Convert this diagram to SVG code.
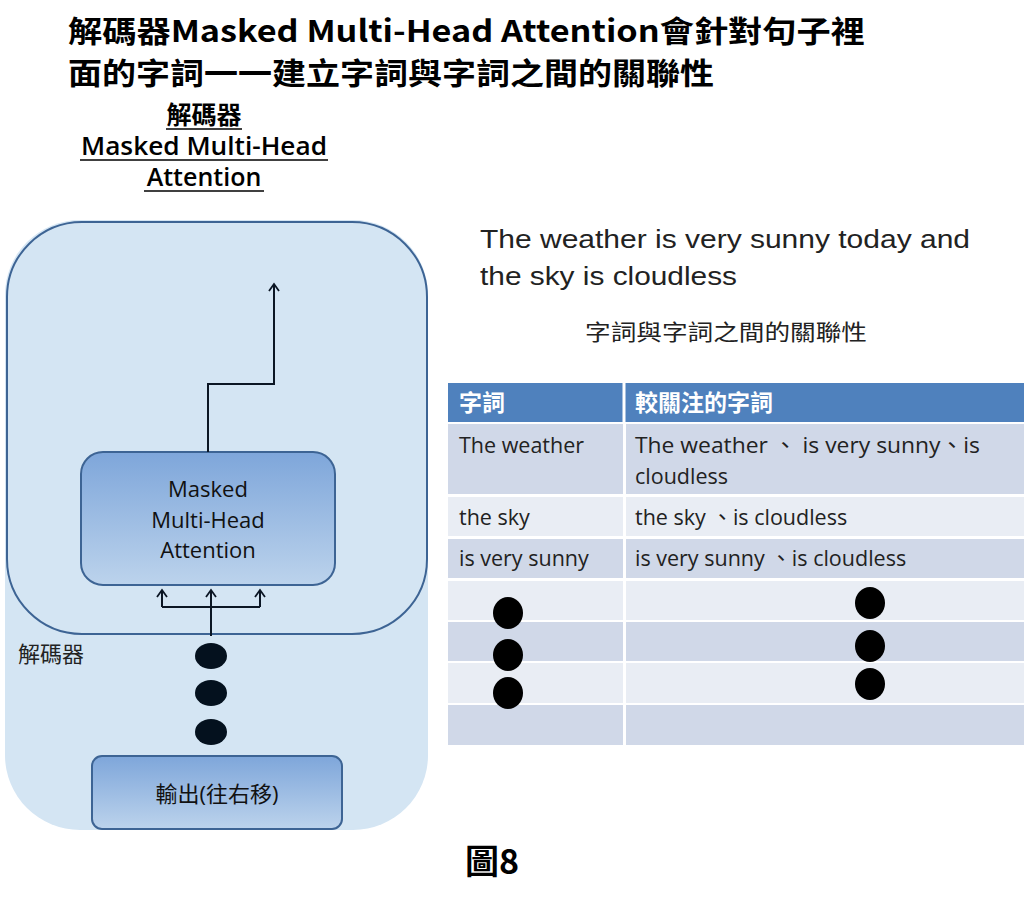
<svg xmlns="http://www.w3.org/2000/svg" width="1024" height="910" viewBox="0 0 1024 910">
<style>
.t{font-family:"Open Sans","Noto Sans CJK TC",sans-serif}
.c{font-family:"Noto Sans CJK TC",sans-serif}
.line{fill:none;stroke:#0b1624;stroke-width:2}
.cell{font-family:"Open Sans","Noto Sans CJK TC",sans-serif;font-size:21.5px;fill:#222}
</style>
<defs>
<linearGradient id="g" x1="0" y1="0" x2="0" y2="1"><stop offset="0" stop-color="#7ea6da"/><stop offset="1" stop-color="#bcd3ec"/></linearGradient>
<marker id="a" viewBox="0 0 12 12" refX="10" refY="6" markerWidth="12" markerHeight="12" markerUnits="userSpaceOnUse" orient="auto"><path d="M3,1 L10,6 L3,11" fill="none" stroke="#0b1624" stroke-width="1.8"/></marker>
</defs>
<rect width="1024" height="910" fill="#fff"/>
<text x="68" y="42" font-size="30" font-weight="bold" class="c" textLength="797" lengthAdjust="spacingAndGlyphs">解碼器Masked Multi-Head Attention會針對句子裡</text>
<text x="68" y="84" font-size="30" font-weight="bold" class="c" textLength="646" lengthAdjust="spacingAndGlyphs">面的字詞一一建立字詞與字詞之間的關聯性</text>
<g font-size="25" class="t" text-anchor="middle" fill="#000" font-weight="600">
<text x="204" y="124">解碼器</text><line x1="166" y1="129" x2="242" y2="129" stroke="#000" stroke-width="1.5"/>
<text x="204" y="155" textLength="246" lengthAdjust="spacingAndGlyphs">Masked Multi-Head</text><line x1="80" y1="160" x2="328" y2="160" stroke="#000" stroke-width="1.5"/>
<text x="204" y="186">Attention</text><line x1="144" y1="191" x2="264" y2="191" stroke="#000" stroke-width="1.5"/>
</g>
<g id="decoder">
<rect x="5" y="220" width="423" height="610" rx="75" fill="#d4e5f3"/>
<rect x="7" y="222" width="420" height="412" rx="75" fill="#d4e5f3" stroke="#3d6494" stroke-width="2"/>
<text x="18" y="662" font-size="22" class="c" fill="#222">解碼器</text>
</g>
<g id="mmha">
<rect x="81" y="452" width="254" height="133" rx="22" fill="url(#g)" stroke="#3d6494" stroke-width="2"/>
<text x="208" y="497" font-size="22" class="t" text-anchor="middle" fill="#111">Masked</text>
<text x="208" y="528" font-size="22" class="t" text-anchor="middle" fill="#111">Multi-Head</text>
<text x="208" y="558" font-size="22" class="t" text-anchor="middle" fill="#111">Attention</text>
</g>
<g id="output">
<rect x="92" y="756" width="250" height="73" rx="10" fill="url(#g)" stroke="#3d6494" stroke-width="2"/>
<text x="217" y="802" font-size="22" class="t" text-anchor="middle" fill="#111">輸出(往右移)</text>
</g>
<g id="connectors">
<path class="line" d="M208,452 V384 H274 V284" marker-end="url(#a)"/>
<path class="line" d="M211,636 V590" marker-end="url(#a)"/>
<path class="line" d="M162,607 H260"/>
<path class="line" d="M162,607 V590" marker-end="url(#a)"/>
<path class="line" d="M260,607 V590" marker-end="url(#a)"/>
</g>
<g id="dots" fill="#04111e">
<ellipse cx="211" cy="656" rx="16" ry="13"/><ellipse cx="211" cy="693" rx="16" ry="13"/><ellipse cx="211" cy="732" rx="16" ry="13"/>
</g>
<text x="480" y="248" font-size="26" font-family="Liberation Sans,sans-serif" fill="#222" textLength="490" lengthAdjust="spacingAndGlyphs">The weather is very sunny today and</text>
<text x="480" y="285" font-size="26" font-family="Liberation Sans,sans-serif" fill="#222" textLength="257" lengthAdjust="spacingAndGlyphs">the sky is cloudless</text>
<text x="585" y="340" font-size="22" class="c" fill="#222" textLength="282" lengthAdjust="spacingAndGlyphs">字詞與字詞之間的關聯性</text>
<g id="table">
<rect x="448" y="383" width="576" height="39" fill="#4f81bd"/>
<line x1="624" y1="383" x2="624" y2="745" stroke="#fff" stroke-width="3"/>
<rect x="448" y="424" width="175" height="70" fill="#d0d8e8"/><rect x="626" y="424" width="398" height="70" fill="#d0d8e8"/>
<rect x="448" y="497" width="175" height="39" fill="#e9edf4"/><rect x="626" y="497" width="398" height="39" fill="#e9edf4"/>
<rect x="448" y="539" width="175" height="39" fill="#d0d8e8"/><rect x="626" y="539" width="398" height="39" fill="#d0d8e8"/>
<rect x="448" y="581" width="175" height="39" fill="#e9edf4"/><rect x="626" y="581" width="398" height="39" fill="#e9edf4"/>
<rect x="448" y="622" width="175" height="39" fill="#d0d8e8"/><rect x="626" y="622" width="398" height="39" fill="#d0d8e8"/>
<rect x="448" y="663" width="175" height="40" fill="#e9edf4"/><rect x="626" y="663" width="398" height="40" fill="#e9edf4"/>
<rect x="448" y="705" width="175" height="40" fill="#d0d8e8"/><rect x="626" y="705" width="398" height="40" fill="#d0d8e8"/>
<text x="459" y="411" font-size="23" font-weight="bold" class="c" fill="#fff">字詞</text>
<text x="635" y="411" font-size="23" font-weight="bold" class="c" fill="#fff">較關注的字詞</text>
<text x="459" y="453" class="cell">The weather</text>
<text x="635" y="453" class="cell" textLength="345" lengthAdjust="spacingAndGlyphs">The weather 、 is very sunny、is</text>
<text x="635" y="484" class="cell">cloudless</text>
<text x="459" y="525" class="cell">the sky</text>
<text x="635" y="525" class="cell">the sky 、is cloudless</text>
<text x="459" y="566" class="cell">is very sunny</text>
<text x="635" y="566" class="cell">is very sunny 、is cloudless</text>
<g fill="#000">
<ellipse cx="508" cy="613" rx="15" ry="16"/><ellipse cx="508" cy="655" rx="15" ry="16"/><ellipse cx="508" cy="693" rx="15" ry="16"/>
<ellipse cx="870" cy="603" rx="15" ry="16"/><ellipse cx="870" cy="646" rx="15" ry="16"/><ellipse cx="870" cy="684" rx="15" ry="16"/>
</g>
</g>
<text x="492" y="874" font-size="34" font-weight="bold" class="c" text-anchor="middle">圖8</text>
</svg>
